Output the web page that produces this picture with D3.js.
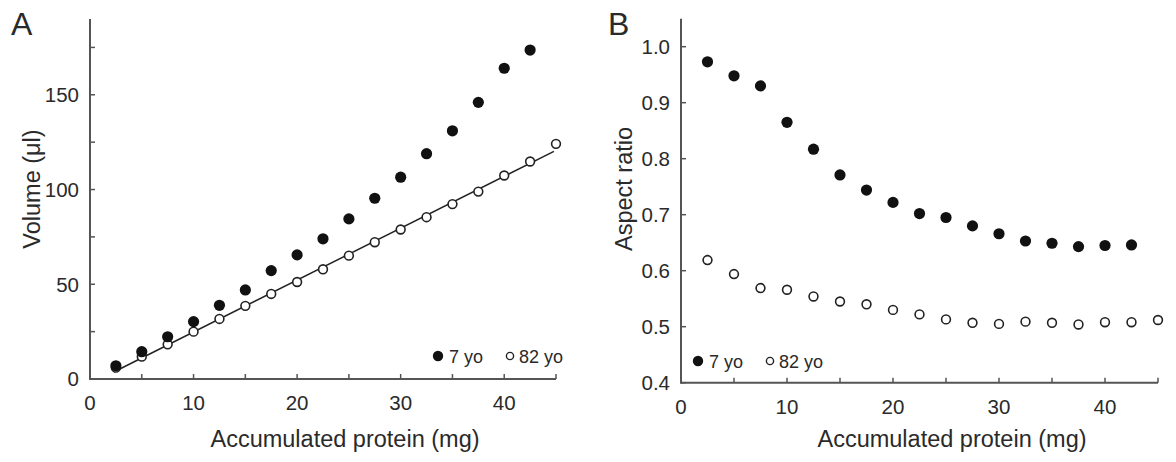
<!DOCTYPE html>
<html>
<head>
<meta charset="utf-8">
<script src="https://cdn.jsdelivr.net/npm/d3@7"></script>
<style>
  body { margin: 0; background: #fff; }
  svg text { font-family: "Liberation Sans", Arial, sans-serif; fill: #2a2a2a; }
</style>
</head>
<body>
<div id="grafica"></div>
<script>
// valores
const proteina = [2.5, 5, 7.5, 10, 12.5, 15, 17.5, 20, 22.5, 25, 27.5, 30, 32.5, 35, 37.5, 40, 42.5, 45];
const volumen7 = [7.0, 14.4, 22.3, 30.3, 38.9, 47.0, 57.2, 65.5, 74.0, 84.5, 95.4, 106.5, 118.9, 131.0, 146.0, 164.0, 173.6];
const volumen82 = [6.0, 11.8, 18.3, 25.0, 31.7, 38.6, 44.9, 51.2, 57.9, 65.1, 72.2, 78.9, 85.4, 92.3, 98.9, 107.4, 114.8, 124.1];
const aspecto7 = [0.973, 0.948, 0.930, 0.865, 0.817, 0.771, 0.744, 0.722, 0.702, 0.695, 0.680, 0.666, 0.653, 0.649, 0.643, 0.645, 0.646];
const aspecto82 = [0.619, 0.594, 0.569, 0.566, 0.554, 0.545, 0.540, 0.530, 0.522, 0.513, 0.507, 0.505, 0.509, 0.507, 0.504, 0.508, 0.508, 0.512];
const ticksX = [0, 10, 20, 30, 40];
const ticksVolumen = [0, 50, 100, 150];
const ticksAspecto = [0.4, 0.5, 0.6, 0.7, 0.8, 0.9, 1.0];

const colorEje = "#555";
const svg = d3.select("#grafica").append("svg")
    .attr("width", 1176)
    .attr("height", 462);

const dibujarEjes = (x, y, ticksY, menoresY, formatoY, centroTitulo) => {
    const [x0, x1] = x.range();
    const [y0, y1] = y.range();
    const g = svg.append("g");
    g.append("line").attr("x1", x0).attr("x2", x1).attr("y1", y0).attr("y2", y0)
        .attr("stroke", colorEje).attr("stroke-width", 2);
    g.append("line").attr("x1", x0).attr("x2", x0).attr("y1", y0 + 1).attr("y2", y1)
        .attr("stroke", colorEje).attr("stroke-width", 2);
    // ticks hacia dentro
    g.selectAll(".tx").data(d3.range(5, 46, 5)).join("line")
        .attr("x1", d => x(d)).attr("x2", d => x(d))
        .attr("y1", y0).attr("y2", y0 - 5)
        .attr("stroke", colorEje).attr("stroke-width", 1.5);
    g.selectAll(".lx").data(ticksX).join("text")
        .attr("x", d => x(d)).attr("y", y0 + 31)
        .attr("text-anchor", "middle").attr("font-size", 20.5)
        .text(d => d);
    g.selectAll(".ty").data(ticksY.concat(menoresY)).join("line")
        .attr("x1", x0).attr("x2", x0 + 5)
        .attr("y1", d => y(d)).attr("y2", d => y(d))
        .attr("stroke", colorEje).attr("stroke-width", 1.5);
    g.selectAll(".ly").data(ticksY).join("text")
        .attr("x", x0 - 11).attr("y", d => y(d))
        .attr("dy", "0.36em")
        .attr("text-anchor", "end").attr("font-size", 20.5)
        .text(formatoY);
    g.append("text")
        .attr("x", centroTitulo).attr("y", 447)
        .attr("text-anchor", "middle").attr("font-size", 23.5)
        .text("Accumulated protein (mg)");
};

const puntos = (x, y, xs, ys, relleno) => {
    svg.append("g").selectAll("circle").data(ys).join("circle")
        .attr("cx", (d, i) => x(xs[i])).attr("cy", d => y(d))
        .attr("r", relleno ? 5.6 : 4.4)
        .attr("fill", relleno ? "#111" : "#fff")
        .attr("stroke", relleno ? "none" : "#222")
        .attr("stroke-width", 1.6);
};

const leyenda = (cx, cy) => {
    svg.append("circle").attr("cx", cx).attr("cy", cy).attr("r", 5.2).attr("fill", "#111");
    svg.append("text").attr("x", cx + 11).attr("y", cy + 6.5).attr("font-size", 18).text("7 yo");
    svg.append("circle").attr("cx", cx + 72).attr("cy", cy).attr("r", 3.6)
        .attr("fill", "#fff").attr("stroke", "#222").attr("stroke-width", 1.4);
    svg.append("text").attr("x", cx + 81).attr("y", cy + 6.5).attr("font-size", 18).text("82 yo");
};

// Panel A
const xA = d3.scaleLinear().domain([0, 45]).range([90, 556]);
const yA = d3.scaleLinear().domain([0, 190]).range([379, 19]);
dibujarEjes(xA, yA, ticksVolumen, [25, 75, 125, 175], d => d, 345);

// recta de ajuste (minimos cuadrados sobre 82 yo)
const mx = d3.mean(proteina), my = d3.mean(volumen82);
const pendiente = d3.sum(proteina, (d, i) => (d - mx) * (volumen82[i] - my)) /
    d3.sum(proteina, d => (d - mx) * (d - mx));
const ordenada = my - pendiente * mx;
svg.append("path")
    .datum([2.3, 44.8])
    .attr("d", d3.line().x(d => xA(d)).y(d => yA(ordenada + pendiente * d)))
    .attr("stroke", "#222").attr("stroke-width", 1.5).attr("fill", "none");

puntos(xA, yA, proteina, volumen82, false);
puntos(xA, yA, proteina, volumen7, true);
leyenda(438, 356);
svg.append("text").attr("x", 11).attr("y", 35).attr("font-size", 32).text("A");
svg.append("text")
    .attr("transform", "translate(40,189) rotate(-90)")
    .attr("text-anchor", "middle").attr("font-size", 23.5)
    .text("Volume (μl)");

// Panel B
const xB = d3.scaleLinear().domain([0, 45]).range([681, 1158]);
const yB = d3.scaleLinear().domain([0.4, 1.05]).range([382.7, 18.7]);
dibujarEjes(xB, yB, ticksAspecto, [], d3.format(".1f"), 952);
puntos(xB, yB, proteina, aspecto82, false);
puntos(xB, yB, proteina, aspecto7, true);
leyenda(698, 361);
svg.append("text").attr("x", 608).attr("y", 35).attr("font-size", 32).text("B");
svg.append("text")
    .attr("transform", "translate(632,189) rotate(-90)")
    .attr("text-anchor", "middle").attr("font-size", 23.5)
    .text("Aspect ratio");
</script>
</body>
</html>
